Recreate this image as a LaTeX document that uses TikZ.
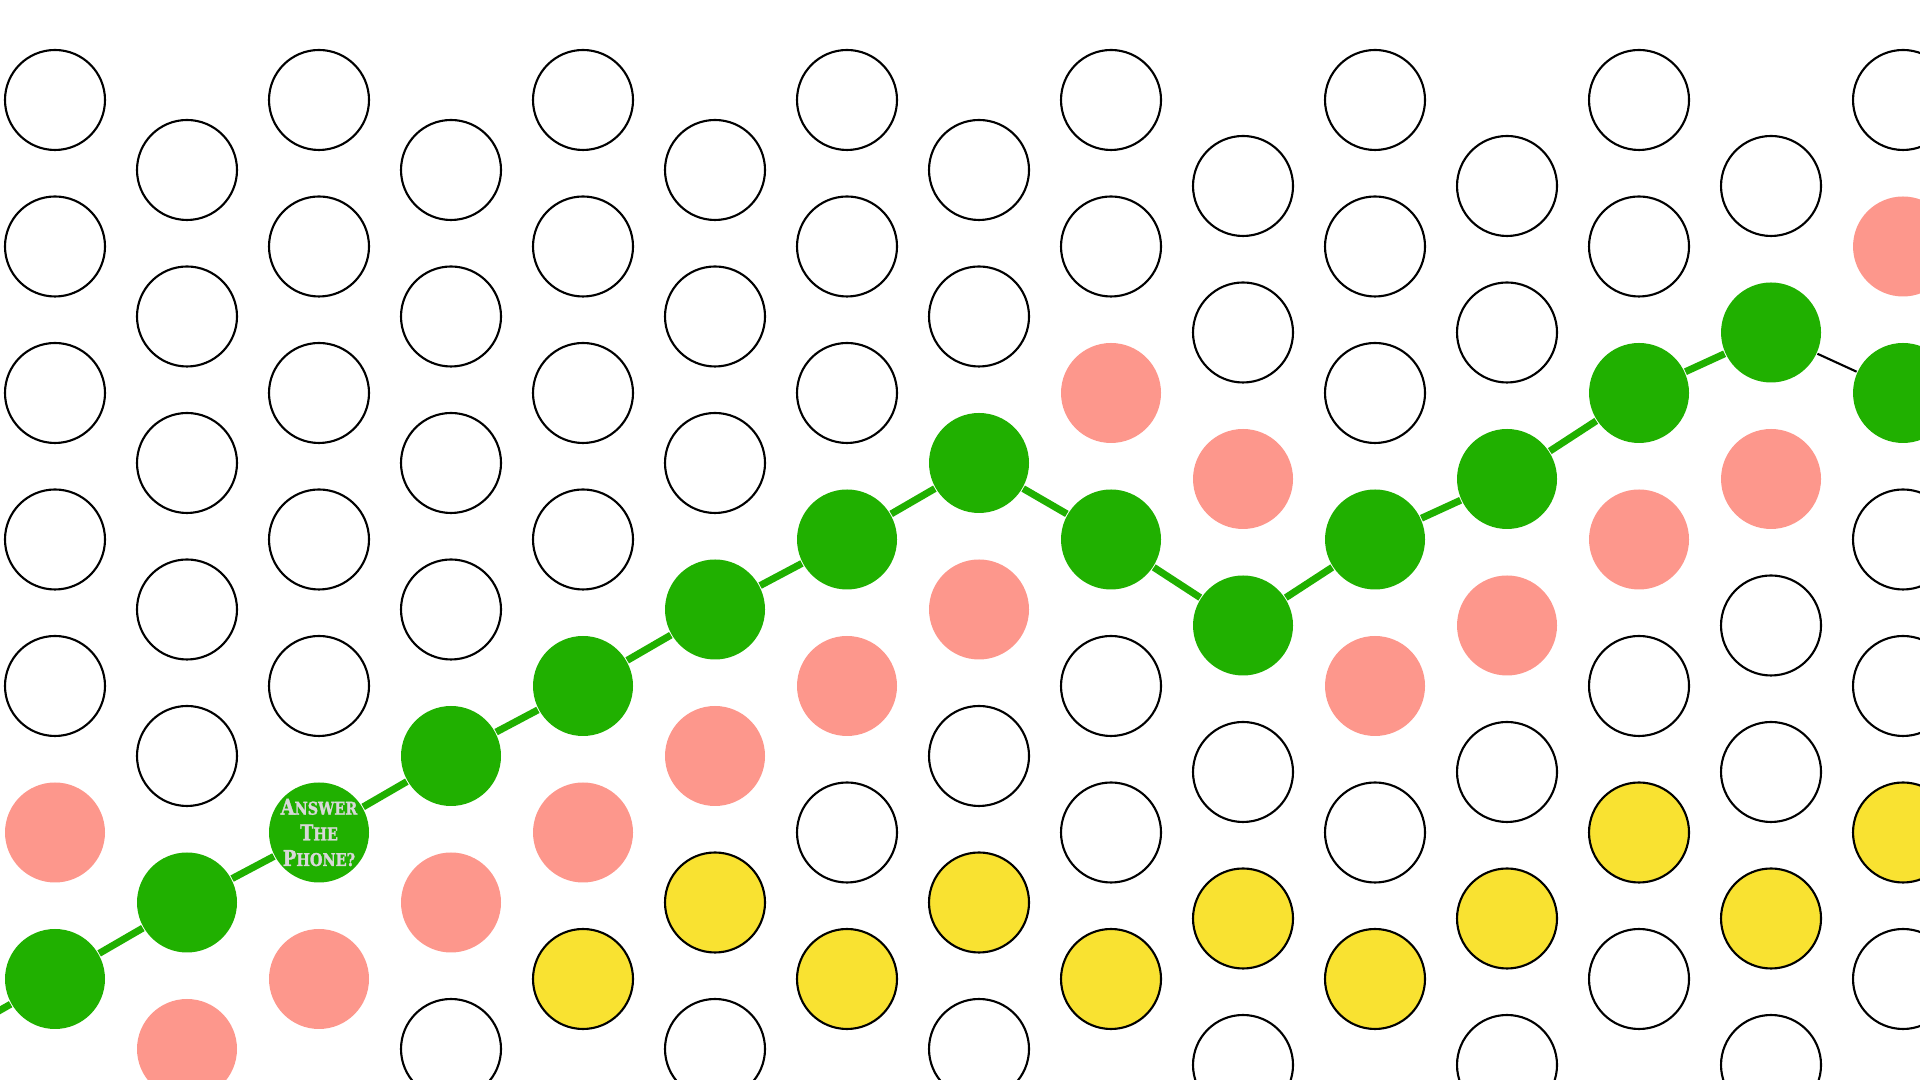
\documentclass[tikz,border=0pt]{standalone}
\usepackage{fontspec}
\usepackage{xcolor}
\usepackage{tikz}
\newfontfamily\askfont{DejaVu Serif}[BoldFont={DejaVu Serif Bold}, BoldFeatures={FakeBold=1.5}, FakeStretch=0.82]
\definecolor{pathgreen}{HTML}{20B000}
\definecolor{missred}{HTML}{FD978C}
\definecolor{lateyellow}{HTML}{F9E231}
\definecolor{asktext}{HTML}{D8D8D8}
\tikzset{
  dot/.style={circle, minimum size=1cm, inner sep=0pt, line width=0.6pt},
  dotw/.style={dot, draw=black, fill=white},
  dotp/.style={dot, fill=missred},
  dotg/.style={dot, fill=pathgreen},
  doty/.style={dot, draw=black, fill=lateyellow},
  route/.style={line width=2pt, draw=pathgreen},
  thinroute/.style={line width=0.6pt, draw=black},
  asklabel/.style={align=center, text=asktext, inner sep=0pt,
    font=\askfont\bfseries\fontsize{5}{7.3}\selectfont}
}
\newcommand{\askcap}[2]{{\fontsize{6.2}{7.3}\selectfont #1}#2}

\begin{document}
\begin{tikzpicture}
    \useasboundingbox (0,0) rectangle (19.2,10.8);
    \clip (0,0) rectangle (19.2,10.8);

    % columns: index / top offset (px) / colours from top to bottom
    \foreach \i/\off/\cols in {
        0/100/{w,w,w,w,w,p,g}, 1/170/{w,w,w,w,w,g,p}, 2/100/{w,w,w,w,w,g,p},
        3/170/{w,w,w,w,g,p,w}, 4/100/{w,w,w,w,g,p,y}, 5/170/{w,w,w,g,p,y,w},
        6/100/{w,w,w,g,p,w,y}, 7/170/{w,w,g,p,w,y,w}, 8/100/{w,w,p,g,w,w,y},
        9/186/{w,w,p,g,w,y,w}, 10/100/{w,w,w,g,p,w,y}, 11/186/{w,w,g,p,w,y,w},
        12/100/{w,w,g,p,w,y,w}, 13/186/{w,g,p,w,w,y,w}, 14/100/{w,p,g,w,w,y,w}}
      \foreach \c [count=\j from 0] in \cols
        \node[dot\c] (c\i-\j) at ({0.55+1.32*\i},{10.8-(\off+146.5*\j)/100}) {};

    \coordinate (start) at (-0.77,0.26);

    \draw[route] (start) -- (c0-6);
    \draw[route] (c0-6) -- (c1-5);
    \draw[route] (c1-5) -- (c2-5);
    \draw[route] (c2-5) -- (c3-4);
    \draw[route] (c3-4) -- (c4-4);
    \draw[route] (c4-4) -- (c5-3);
    \draw[route] (c5-3) -- (c6-3);
    \draw[route] (c6-3) -- (c7-2);
    \draw[route] (c7-2) -- (c8-3);
    \draw[route] (c8-3) -- (c9-3);
    \draw[route] (c9-3) -- (c10-3);
    \draw[route] (c10-3) -- (c11-2);
    \draw[route] (c11-2) -- (c12-2);
    \draw[route] (c12-2) -- (c13-1);
    \draw[thinroute] (c13-1) -- (c14-2);

    \node[asklabel] (ask) at (c2-5) {\askcap{A}{NSWER}\\\askcap{T}{HE}\\\askcap{P}{HONE?}};
  \end{tikzpicture}
\end{document}
